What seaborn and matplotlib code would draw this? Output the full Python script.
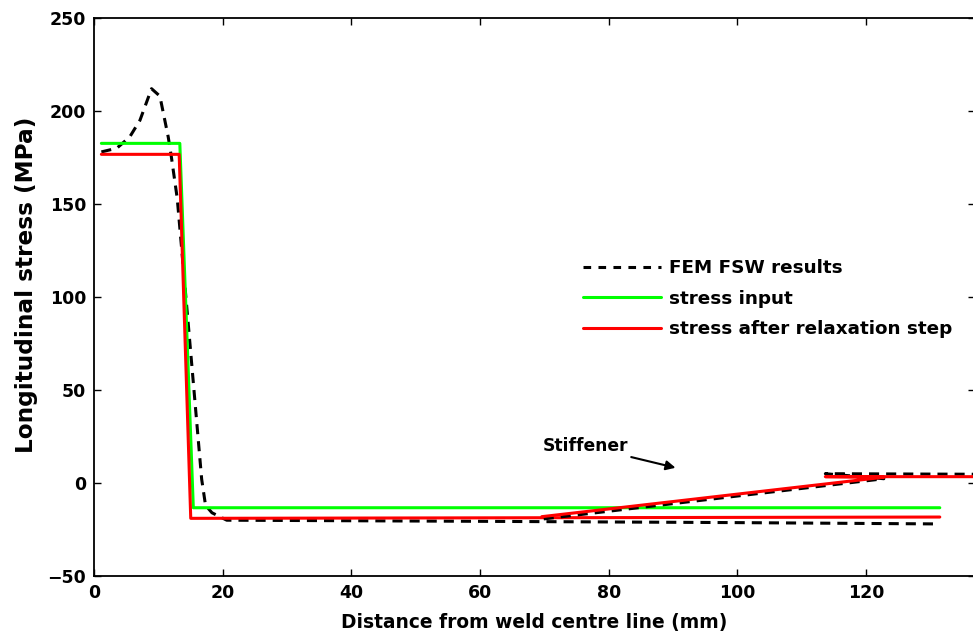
import matplotlib
matplotlib.use("Agg")
import matplotlib.pyplot as plt
import seaborn as sns
import numpy as np
import pandas as pd

# ---- data ----
fem_x = [1.1, 3.5, 5.5, 7.1, 8.9, 10.2, 11.5, 12.0, 12.9, 14.5, 16.7, 17.3, 18.3, 20.6, 60.0, 100.0, 131.1]
fem_y = [178, 180, 186, 195, 212, 208, 186, 175, 153, 90, 2, -12, -16, -20, -20.6, -21.3, -22]
fem_stiff_x = [69.9, 122.8, 113.7, 137.0]
fem_stiff_y = [-19.3, 2.3, 5.0, 4.7]

input_x = [1.1, 13.3, 15.4, 131.5]
input_y = [182.6, 182.6, -13.3, -13.3]

relax_x = [1.1, 13.2, 15.0, 131.5]
relax_y = [176.7, 176.7, -19.0, -18.3]
relax_stiff_x = [69.6, 122.8, 113.7, 137.0]
relax_stiff_y = [-18.1, 3.1, 3.4, 3.4]

labels = ["FEM FSW results", "stress input", "stress after relaxation step"]
x_ticks = [0, 20, 40, 60, 80, 100, 120]
y_ticks = [-50, 0, 50, 100, 150, 200, 250]
xlabel = "Distance from weld centre line (mm)"
ylabel = "Longitudinal stress (MPa)"
annot_text = "Stiffener"

# ---- styling ----
sns.set_style("ticks")
plt.rcParams["font.family"] = ["DejaVu Sans"]
plt.rcParams["font.weight"] = "bold"
plt.rcParams["axes.labelweight"] = "bold"
for k in ["text.color", "axes.labelcolor", "xtick.color", "ytick.color", "axes.edgecolor"]:
    plt.rcParams[k] = "black"
FS = 12.5

fig = plt.figure(figsize=(9.73, 6.44), dpi=100)
ax = fig.add_axes([94.3 / 973, (644 - 576) / 644, (974.5 - 94.3) / 973, (576 - 18) / 644])

lw = 2.2
dash = (0, (3.3, 2.3))
sns.lineplot(x=fem_x, y=fem_y, ax=ax, color="black", lw=lw, sort=False, estimator=None,
             linestyle=dash, label=labels[0])
sns.lineplot(x=input_x, y=input_y, ax=ax, color="#00ff00", lw=lw, sort=False, estimator=None,
             label=labels[1])
sns.lineplot(x=relax_x, y=relax_y, ax=ax, color="#ff0000", lw=lw, sort=False, estimator=None,
             label=labels[2])
sns.lineplot(x=fem_stiff_x, y=fem_stiff_y, ax=ax, color="black", lw=lw, sort=False, estimator=None,
             linestyle=dash)
sns.lineplot(x=relax_stiff_x, y=relax_stiff_y, ax=ax, color="#ff0000", lw=lw, sort=False, estimator=None)

ax.set_xlim(0, 136.9)
ax.set_ylim(-50, 250)
ax.set_xticks(x_ticks)
ax.set_yticks(y_ticks)
ax.tick_params(direction="in", length=5, width=1, top=True, right=True, labelsize=FS, pad=6)
for s in ax.spines.values():
    s.set_visible(True)
    s.set_linewidth(1.3)
ax.set_xlabel(xlabel, fontsize=13.4, labelpad=8)
ax.set_ylabel(ylabel, fontsize=16.7)
ax.yaxis.set_label_coords(-0.064, 0.522)

ax.annotate(annot_text, xy=(90.4, 8.2), xytext=(83.0, 19.9), ha="right", va="center",
            fontsize=12.3, fontweight="bold",
            arrowprops=dict(arrowstyle="-|>", color="black", lw=1.5, mutation_scale=14,
                            shrinkA=0, shrinkB=0))

leg = ax.legend(loc="upper left", bbox_to_anchor=(0.5555, 0.568), frameon=False,
                fontsize=13.2, handlelength=4.25, handletextpad=0.45, labelspacing=0.68,
                borderpad=0, borderaxespad=0)
for line in leg.get_lines():
    line.set_linewidth(lw)
leg.get_lines()[0].set_linestyle((0, (2.5, 2.4)))

fig.savefig("out.png", dpi=100)
